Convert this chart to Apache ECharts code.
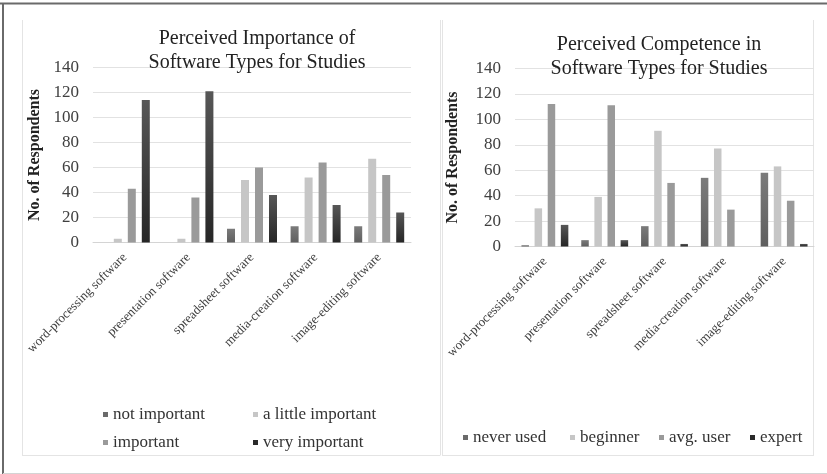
<!DOCTYPE html>
<html>
<head>
<meta charset="utf-8">
<script src="https://cdn.jsdelivr.net/npm/echarts@6/dist/echarts.min.js"></script>
<style>
html,body{margin:0;padding:0;background:#fff;}
#c{width:827px;height:474px;}
</style>
</head>
<body>
<div id="c"></div>
<script>
const categories = ['word-processing software','presentation software','spreadsheet software','media-creation software','image-editing software'];
const yTicks = [0,20,40,60,80,100,120,140];

const importanceNames = ['not important','a little important','important','very important'];
const notImportant    = [0, 0, 11, 13, 13];
const aLittleImportant= [3, 3, 50, 52, 67];
const important       = [43, 36, 60, 64, 54];
const veryImportant   = [114, 121, 38, 30, 24];

const competenceNames = ['never used','beginner','avg. user','expert'];
const neverUsed = [1, 5, 16, 54, 58];
const beginner  = [30, 39, 91, 77, 63];
const avgUser   = [112, 111, 50, 29, 36];
const expert    = [17, 5, 2, 0, 2];

const FONT = 'Liberation Serif';
const grad = (a,b) => new echarts.graphic.LinearGradient(0,0,0,1,[{offset:0,color:a},{offset:1,color:b}]);
const colors = [grad('#7b7b7b','#5f5f5f'), '#c6c6c6', '#9a9a9a', grad('#575757','#262626')];
const legendColors = ['#6a6a6a','#c6c6c6','#9a9a9a','#2a2a2a'];

function xAxis(gi){
  return {type:'category', gridIndex:gi, data:categories,
    axisLine:{show:true,lineStyle:{color:'#d4d4d4'}}, axisTick:{show:false},
    axisLabel:{rotate:45, interval:0, margin:13, fontFamily:FONT, fontSize:13, color:'#404040'}};
}
function yAxis(gi, gap){
  return {type:'value', gridIndex:gi, min:yTicks[0], max:yTicks[yTicks.length-1], interval:20,
    name:'No. of Respondents', nameLocation:'middle', nameGap:gap,
    nameTextStyle:{fontFamily:FONT, fontSize:16, fontWeight:'bold', color:'#222'},
    axisLine:{show:false}, axisTick:{show:false},
    splitLine:{lineStyle:{color:'#e2e2e2', width:1}},
    axisLabel:{margin:14, fontFamily:FONT, fontSize:17, color:'#404040'}};
}
function series(names, arrays, gi, bw){
  return arrays.map((d,i)=>({name:names[i], type:'bar', xAxisIndex:gi, yAxisIndex:gi, data:d,
    barWidth:bw, barGap:'75%', itemStyle:{color:colors[i]}, animation:false}));
}
function legend(name, x, y){
  const idx = importanceNames.indexOf(name) >= 0 ? importanceNames.indexOf(name) : competenceNames.indexOf(name);
  return {data:[{name:name, itemStyle:{color:legendColors[idx]}}], left:x, top:y, icon:'rect', itemWidth:5, itemHeight:5,
    itemGap:0, selectedMode:false, textStyle:{fontFamily:FONT, fontSize:17, color:'#333', padding:[0,0,0,0]}, padding:0};
}

const lineStyleDark = {stroke:'#6a6a6a', lineWidth:2};
const lineStyleLight = {stroke:'#e4e4e4', lineWidth:1};

const option = {
  backgroundColor:'#fff',
  animation:false,
  textStyle:{fontFamily:FONT},
  title:[
    {text:'Perceived Importance of\nSoftware Types for Studies', left:252, top:22, textAlign:'center',
      textStyle:{fontFamily:FONT, fontSize:20, fontWeight:'normal', color:'#222', lineHeight:24}},
    {text:'Perceived Competence in\nSoftware Types for Studies', left:654, top:28, textAlign:'center',
      textStyle:{fontFamily:FONT, fontSize:20, fontWeight:'normal', color:'#222', lineHeight:24}}
  ],
  grid:[
    {left:93, right:416, top:67.5, height:175},
    {left:515, right:13, top:68.5, height:178}
  ],
  xAxis:[xAxis(0), xAxis(1)],
  yAxis:[yAxis(0,50), yAxis(1,54)],
  legend:[
    legend('not important', 103, 406),
    legend('a little important', 253, 406),
    legend('important', 103, 434),
    legend('very important', 253, 434),
    legend('never used', 463, 429),
    legend('beginner', 570, 429),
    legend('avg. user', 659, 429),
    legend('expert', 750, 429)
  ],
  series:[].concat(
    series(importanceNames,[notImportant,aLittleImportant,important,veryImportant],0,8),
    series(competenceNames,[neverUsed,beginner,avgUser,expert],1,7.5)
  ),
  graphic:[
    {type:'line', shape:{x1:0,y1:3.5,x2:827,y2:3.5}, style:lineStyleDark, silent:true},
    {type:'line', shape:{x1:3,y1:3,x2:3,y2:474}, style:lineStyleDark, silent:true},
    {type:'line', shape:{x1:3,y1:473.5,x2:827,y2:473.5}, style:{stroke:'#d4d4d4',lineWidth:1}, silent:true},
    {type:'line', shape:{x1:22.5,y1:20,x2:22.5,y2:455.5}, style:lineStyleLight, silent:true},
    {type:'line', shape:{x1:22,y1:455.5,x2:440,y2:455.5}, style:lineStyleLight, silent:true},
    {type:'line', shape:{x1:440.5,y1:20,x2:440.5,y2:455.5}, style:lineStyleLight, silent:true},
    {type:'line', shape:{x1:442.5,y1:20,x2:442.5,y2:455.5}, style:lineStyleLight, silent:true},
    {type:'line', shape:{x1:442,y1:455.5,x2:814,y2:455.5}, style:lineStyleLight, silent:true},
    {type:'line', shape:{x1:813.5,y1:20,x2:813.5,y2:455.5}, style:lineStyleLight, silent:true}
  ]
};
const chart = echarts.init(document.getElementById('c'), null, {renderer:'canvas'});
chart.setOption(option);
</script>
</body>
</html>
